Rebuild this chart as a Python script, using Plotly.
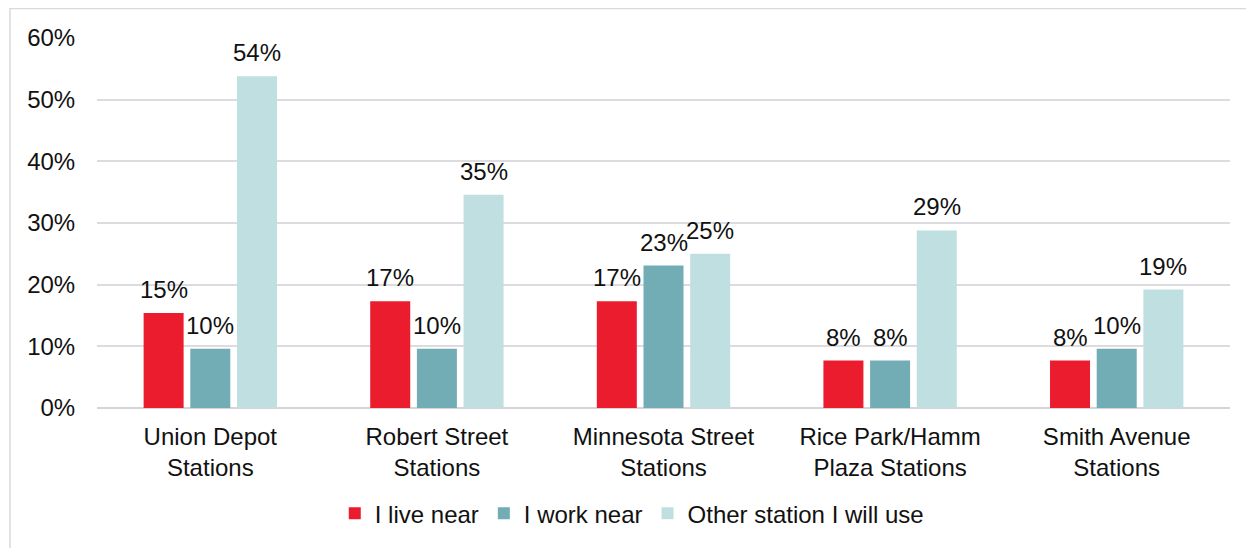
import plotly.graph_objects as go

categories = ["Union Depot<br>Stations", "Robert Street<br>Stations", "Minnesota Street<br>Stations",
              "Rice Park/Hamm<br>Plaza Stations", "Smith Avenue<br>Stations"]
live_near = [15.4, 17.3, 17.3, 7.7, 7.7]
work_near = [9.6, 9.6, 23.1, 7.7, 9.6]
other_station = [53.8, 34.6, 25.0, 28.8, 19.2]
series_names = ["I live near", "I work near", "Other station I will use"]
colors = ["#EC1C2F", "#72ADB5", "#C0DFE0"]
y_ticks = [0, 10, 20, 30, 40, 50, 60]

FONT = "Liberation Sans, Arial"
# page has an 8px body margin; figure coordinates below are relative to the figure
W, H = 1246, 540
L, R, T, B = 89, 1222, 30, 405
pw, ph = R - L, B - T
BARGAP, BARGROUPGAP = 0.382, 0.143

fig = go.Figure()
all_series = [live_near, work_near, other_station]
for name, vals, col in zip(series_names, all_series, colors):
    fig.add_trace(go.Bar(
        x=categories, y=vals, name=name, marker=dict(color=col, line=dict(width=0)),
    ))

# value labels above bars
slot = (pw / len(categories)) * (1 - BARGAP) / len(all_series)
annotations = []
for i, vals in enumerate(all_series):
    for c, v in zip(categories, vals):
        annotations.append(dict(
            x=c, y=v, xref="x", yref="y", text=f"{v:.0f}%", showarrow=False,
            xshift=(i - 1) * slot, yshift=8, yanchor="bottom",
            font=dict(family=FONT, size=24, color="#111111"),
        ))

fig.update_layout(
    width=W, height=H,
    margin=dict(l=L, r=W - R, t=T, b=H - B),
    paper_bgcolor="white", plot_bgcolor="white",
    barmode="group", bargap=BARGAP, bargroupgap=BARGROUPGAP,
    font=dict(family=FONT, size=24, color="#111111"),
    showlegend=True,
    legend=dict(orientation="h", x=0.472, xanchor="center", y=(B - 512) / ph, yanchor="middle",
                font=dict(size=24), traceorder="normal"),
    xaxis=dict(showgrid=False, ticks="outside", ticklen=7, tickcolor="rgba(0,0,0,0)",
               tickfont=dict(size=24), showline=False),
    yaxis=dict(range=[0, 60], tickvals=y_ticks, ticktext=[f"{v}%" for v in y_ticks],
               showgrid=True, gridcolor="#DCDBE0", gridwidth=1.5,
               zeroline=True, zerolinecolor="#D5D4DA", zerolinewidth=2,
               ticks="outside", ticklen=16, tickcolor="rgba(0,0,0,0)", tickfont=dict(size=24)),
    annotations=annotations,
    shapes=[dict(type="rect", xref="paper", yref="paper",
                 x0=(2 - L) / pw, x1=(1260 - L) / pw, y0=(B - 560) / ph, y1=(B - 0) / ph,
                 line=dict(color="#D9D9D9", width=1.5), fillcolor="rgba(0,0,0,0)", layer="below")],
)

fig.write_html("out.html")
